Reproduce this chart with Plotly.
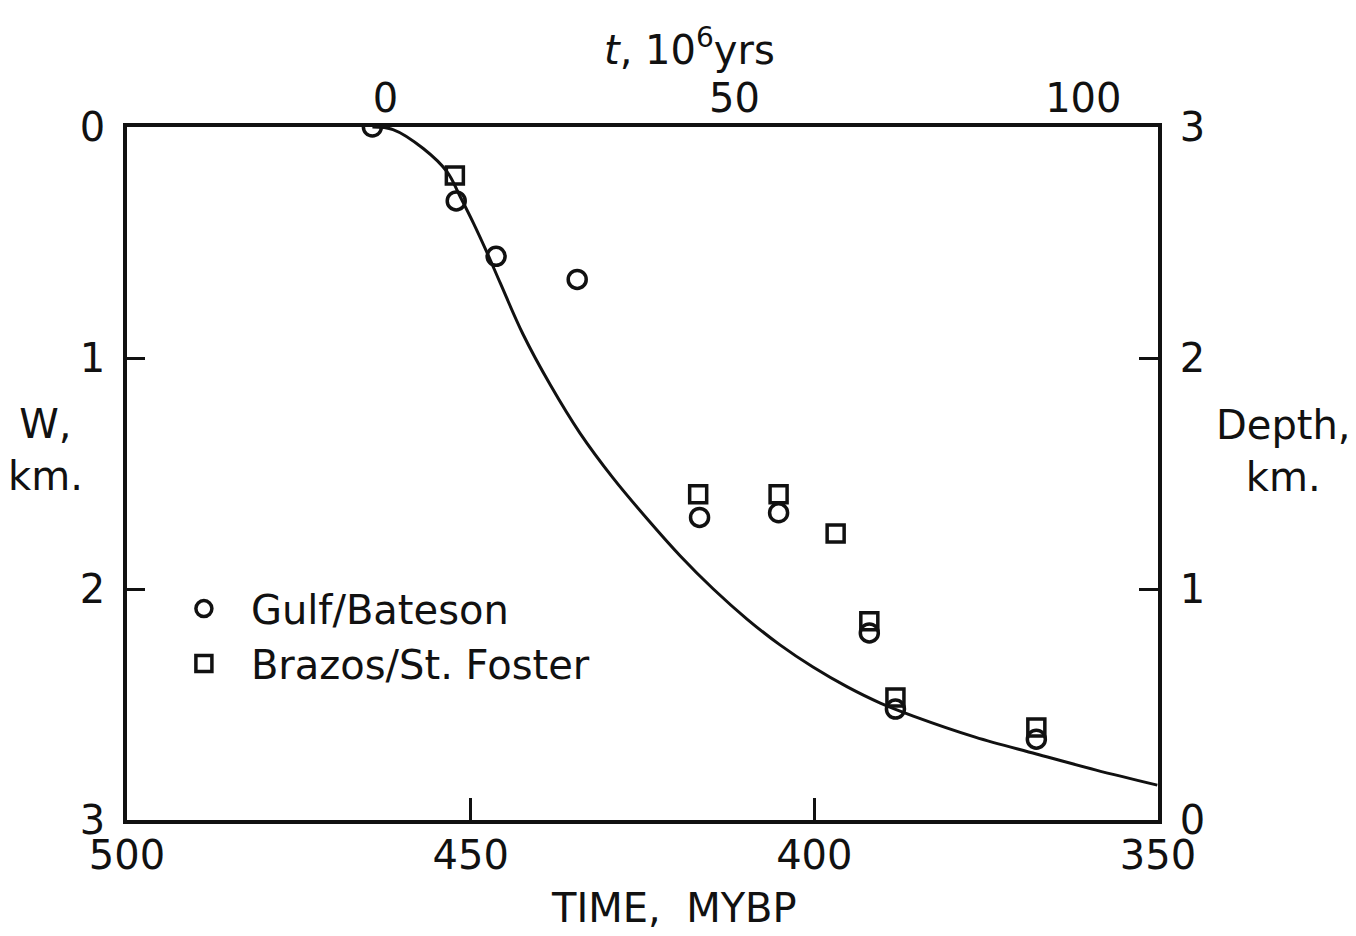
import plotly.graph_objects as go

# ---- data ----
time_gulf = [464.3, 452.1, 446.3, 434.5, 416.7, 405.2, 392.0, 388.2, 367.7]
w_gulf = [0.00, 0.32, 0.56, 0.66, 1.69, 1.67, 2.19, 2.52, 2.65]

time_brazos = [452.3, 416.9, 405.2, 396.9, 392.0, 388.2, 367.7]
w_brazos = [0.21, 1.59, 1.59, 1.76, 2.14, 2.47, 2.60]

time_curve = [464.3, 461.3, 456.9, 453.4, 451.5, 449.6, 447.6, 445.7, 442.4,
              438.4, 434.1, 429.3, 424.3, 419.5, 414.7, 409.8, 405.0,
              400.2, 395.2, 390.4, 385.6, 376.6, 367.7, 359.0, 350.1]
w_curve = [0.000, 0.011, 0.093, 0.195, 0.303, 0.416, 0.545, 0.675, 0.896,
           1.117, 1.325, 1.519, 1.697, 1.857, 2.000, 2.130, 2.242,
           2.338, 2.424, 2.494, 2.550, 2.641, 2.714, 2.784, 2.849]

time_ticks = [500, 450, 400, 350]
w_ticks = [0, 1, 2, 3]
depth_ticks = [0, 1, 2, 3]
t_ticks = [0, 50, 100]

FONT = "DejaVu Sans"
INK = "#111111"

fig = go.Figure()

fig.add_trace(go.Scatter(
    x=time_curve, y=w_curve, mode="lines",
    line=dict(color=INK, width=3, shape="spline", smoothing=1.0),
    showlegend=False, hoverinfo="skip"))

fig.add_trace(go.Scatter(
    x=time_gulf, y=w_gulf, mode="markers", name="Gulf/Bateson",
    marker=dict(symbol="circle-open", size=18, color=INK, line=dict(width=3.5, color=INK))))

fig.add_trace(go.Scatter(
    x=time_brazos, y=w_brazos, mode="markers", name="Brazos/St. Foster",
    marker=dict(symbol="square-open", size=17, color=INK, line=dict(width=3.5, color=INK))))

# helper traces so the secondary axes render
fig.add_trace(go.Scatter(x=[None], y=[None], xaxis="x2", yaxis="y",
                         showlegend=False, hoverinfo="skip"))
fig.add_trace(go.Scatter(x=[None], y=[None], xaxis="x", yaxis="y2",
                         showlegend=False, hoverinfo="skip"))

tickfont = dict(family=FONT, size=40, color=INK)

fig.update_layout(
    width=1356, height=936,
    margin=dict(l=127, r=198, t=127, b=116, pad=0),
    paper_bgcolor="white", plot_bgcolor="white",
    font=dict(family=FONT, color=INK),
    xaxis=dict(
        range=[500, 350], tickvals=time_ticks, ticktext=[str(v) for v in time_ticks],
        ticks="inside", ticklen=22, tickwidth=3, tickcolor=INK,
        showline=True, linewidth=3.5, linecolor=INK, mirror=True,
        showgrid=False, zeroline=False, tickfont=tickfont, ticklabelstandoff=-3),
    xaxis2=dict(
        overlaying="x", side="top", range=[-37.05, 110.7],
        tickvals=t_ticks, ticktext=[str(v) for v in t_ticks], ticks="",
        showline=False, showgrid=False, zeroline=False, tickfont=tickfont,
        ticklabelstandoff=6),
    yaxis=dict(
        range=[3, 0], tickvals=w_ticks, ticktext=[str(v) for v in w_ticks],
        ticks="inside", ticklen=18, tickwidth=3, tickcolor=INK,
        showline=True, linewidth=3.5, linecolor=INK,
        showgrid=False, zeroline=False, tickfont=tickfont, ticklabelstandoff=10),
    yaxis2=dict(
        overlaying="y", side="right", range=[0, 3],
        tickvals=depth_ticks, ticktext=[str(v) for v in depth_ticks],
        ticks="inside", ticklen=19, tickwidth=3, tickcolor=INK,
        showline=True, linewidth=3.5, linecolor=INK,
        showgrid=False, zeroline=False, tickfont=tickfont, ticklabelstandoff=10),
    legend=dict(
        x=0.029, y=0.352, xanchor="left", yanchor="top",
        bgcolor="rgba(0,0,0,0)", borderwidth=0, itemwidth=84,
        font=dict(family=FONT, size=40, color=INK)),
)

ann = dict(xref="paper", yref="paper", showarrow=False, align="center",
           font=dict(family=FONT, size=40, color=INK))
fig.add_annotation(text="W,<br>km.", x=-0.079, y=0.534, xanchor="center", yanchor="middle", **ann)
fig.add_annotation(text="Depth,<br>km.", x=1.122, y=0.5325, xanchor="center", yanchor="middle", **ann)
fig.add_annotation(text="TIME,  MYBP", x=0.531, y=-0.127, xanchor="center", yanchor="middle", **ann)
fig.add_annotation(text="<i>t</i>, 10<sup>6</sup>yrs", x=0.546, y=1.115,
                   xanchor="center", yanchor="middle", **ann)

fig.write_html("out.html")
